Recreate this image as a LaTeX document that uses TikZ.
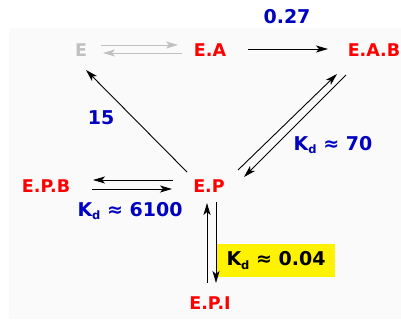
\documentclass[tikz,border=0pt]{standalone}
\usepackage{fontspec}
\setmainfont{DejaVu Sans}
\usetikzlibrary{arrows.meta}
\definecolor{bgc}{HTML}{FAFAFA}
\definecolor{spred}{HTML}{FF0000}
\definecolor{kblue}{HTML}{0000C0}
\definecolor{ggrey}{HTML}{C0C0C0}
\newcommand{\Kd}{K\raisebox{-3.5pt}{\fontsize{11.5pt}{11.5pt}\selectfont d}}
\begin{document}
\begin{tikzpicture}[x=1pt,y=-1pt,
  species/.style={font=\fontsize{17.5pt}{17.5pt}\selectfont\bfseries, text=spred, inner sep=0pt},
  rate/.style={font=\fontsize{19pt}{19pt}\selectfont\bfseries, text=kblue, inner sep=0pt},
  arr/.style={-{Stealth[length=12pt,width=7pt,inset=3pt]}, line width=0.9pt, black},
  garr/.style={arr, ggrey}]
\useasboundingbox (0,0) rectangle (401,324);
\fill[bgc] (9,28) rectangle (401,319);
\node[species, text=ggrey] (E) at (81,50) {E};
\node[species] (EA) at (210,50) {E.A};
\node[species] (EAB) at (374,50) {E.A.B};
\node[species] (EP) at (209,186) {E.P};
\node[species] (EPB) at (46,186) {E.P.B};
\node[species] (EPI) at (210,303) {E.P.I};
\node[rate] (r1) at (287,17) {0.27};
\node[rate] (r2) at (101,118) {15};
\node[rate] (r3) at (333,145) {\Kd\ ≈ 70};
\node[rate] (r4) at (130,211) {\Kd\ ≈ 6100};
\node[rate, fill=yellow, text=black, minimum width=118pt, minimum height=33pt] (r5) at (276,260.5) {\Kd\ ≈ 0.04};
% E <-> E.A
\draw[garr] ([shift={(20,-5)}]E.center) -- ([shift={(-32,-5)}]EA.center);
\draw[garr] ([shift={(-28,3)}]EA.center) -- ([shift={(22,3)}]E.center);
% E.A -> E.A.B
\draw[arr] ([shift={(38,-1)}]EA.center) -- ([shift={(-46,-1)}]EAB.center);
% E.P -> E
\draw[arr] ([shift={(-22,-14)}]EP.center) -- ([shift={(5,20)}]E.center);
% E.P <-> E.A.B
\draw[arr] ([shift={(29,-16)}]EP.center) -- ([shift={(-37,24)}]EAB.center);
\draw[arr] ([shift={(-28,25)}]EAB.center) -- ([shift={(35,-9)}]EP.center);
% E.P <-> E.P.B
\draw[arr] ([shift={(-36,-6)}]EP.center) -- ([shift={(47,-6)}]EPB.center);
\draw[arr] ([shift={(46,3)}]EPB.center) -- ([shift={(-37,3)}]EP.center);
% E.P <-> E.P.I
\draw[arr] ([shift={(-3,-20)}]EPI.center) -- ([shift={(-2,17)}]EP.center);
\draw[arr] ([shift={(7,16)}]EP.center) -- ([shift={(6,-20)}]EPI.center);
\end{tikzpicture}
\end{document}
